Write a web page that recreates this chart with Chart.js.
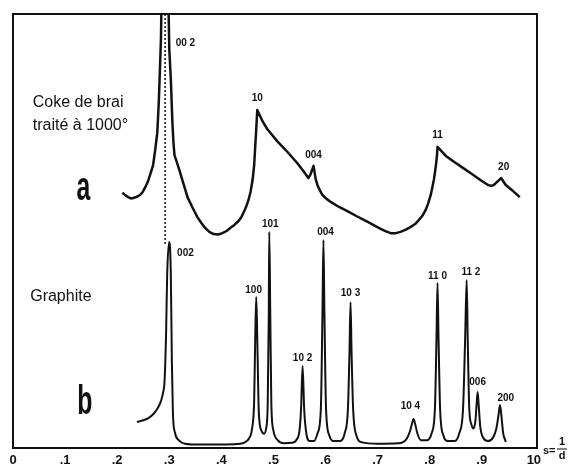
<!DOCTYPE html>
<html>
<head>
<meta charset="utf-8">
<script src="https://cdn.jsdelivr.net/npm/chart.js@4.4.1/dist/chart.umd.min.js"></script>
<style>
  html, body { margin: 0; padding: 0; background: #fff; }
  canvas { display: block; }
</style>
</head>
<body>
<canvas id="xrd" width="568" height="466"></canvas>
<script>
// s = 1/d on x, intensity (arbitrary, 0-100 = frame height) on y
const tickValues = [0, 0.1, 0.2, 0.3, 0.4, 0.5, 0.6, 0.7, 0.8, 0.9, 1.0];
const tickLabels = ['0', '.1', '.2', '.3', '.4', '.5', '.6', '.7', '.8', '.9', '10'];

// a: coke de brai traité à 1000°
const cokeS = [0.210, 0.216, 0.221, 0.226, 0.231, 0.238, 0.244, 0.249, 0.254, 0.259, 0.263, 0.266, 0.269, 0.273, 0.277, 0.280, 0.284, 0.2915, 0.300, 0.303, 0.306, 0.308, 0.310, 0.315, 0.320, 0.325, 0.330, 0.335, 0.345, 0.354, 0.362, 0.369, 0.377, 0.385, 0.394, 0.402, 0.410, 0.417, 0.425, 0.433, 0.438, 0.442, 0.447, 0.452, 0.456, 0.460, 0.463, 0.465, 0.467, 0.469, 0.479, 0.488, 0.508, 0.527, 0.546, 0.560, 0.567, 0.571, 0.574, 0.577, 0.579, 0.581, 0.585, 0.590, 0.594, 0.602, 0.610, 0.625, 0.642, 0.660, 0.681, 0.695, 0.706, 0.716, 0.725, 0.735, 0.744, 0.754, 0.763, 0.772, 0.779, 0.786, 0.792, 0.797, 0.802, 0.805, 0.808, 0.810, 0.812, 0.814, 0.815, 0.831, 0.846, 0.863, 0.879, 0.898, 0.912, 0.918, 0.923, 0.931, 0.937, 0.946, 0.960, 0.973];
const cokeI = [58.8, 58.2, 57.8, 57.5, 57.6, 57.9, 58.3, 59.0, 60.1, 61.4, 62.9, 64.0, 65.2, 68.7, 72.6, 80, 94, 150, 92, 85, 75, 70.5, 67.5, 65.7, 63.8, 61.8, 59.8, 57.8, 55.3, 53.2, 51.8, 50.7, 49.8, 49.3, 49.2, 49.5, 50.0, 50.7, 51.4, 52.3, 53.1, 54.1, 55.4, 57.1, 59.0, 61.8, 65.2, 69.4, 73.5, 77.9, 75.3, 73.5, 70.6, 68.2, 65.6, 63.4, 62.2, 63.0, 64.0, 65.0, 63.5, 62.0, 60.4, 59.2, 58.3, 57.4, 56.7, 55.6, 54.6, 53.4, 52.1, 51.2, 50.5, 49.9, 49.5, 49.5, 49.8, 50.3, 50.9, 51.6, 52.5, 53.5, 54.8, 56.3, 58.3, 60.0, 61.8, 63.4, 65.2, 67.4, 69.4, 67.3, 66.0, 64.6, 63.3, 61.7, 60.6, 60.4, 60.6, 61.5, 62.2, 60.6, 59.2, 57.8];
const cokePeakNames = ['00 2', '10', '004', '11', '20'];
const cokePeakS = [0.331, 0.469, 0.577, 0.815, 0.942];
const cokePeakI = [93.3, 80.6, 67.5, 72.1, 64.7];

// b: graphite
const graphiteS = [0.238, 0.250, 0.260, 0.270, 0.278, 0.284, 0.288, 0.291, 0.294, 0.296, 0.300, 0.303, 0.305, 0.307, 0.311, 0.318, 0.330, 0.360, 0.400, 0.430, 0.445, 0.453, 0.459, 0.463, 0.465, 0.467, 0.469, 0.472, 0.477, 0.482, 0.486, 0.489, 0.491, 0.492, 0.494, 0.496, 0.500, 0.508, 0.520, 0.535, 0.545, 0.550, 0.553, 0.556, 0.559, 0.563, 0.570, 0.578, 0.585, 0.591, 0.594, 0.596, 0.598, 0.601, 0.607, 0.615, 0.628, 0.637, 0.643, 0.646, 0.648, 0.650, 0.653, 0.659, 0.670, 0.700, 0.740, 0.755, 0.762, 0.766, 0.769, 0.772, 0.776, 0.783, 0.795, 0.804, 0.810, 0.813, 0.815, 0.817, 0.820, 0.826, 0.835, 0.848, 0.857, 0.864, 0.868, 0.871, 0.873, 0.876, 0.880, 0.884, 0.888, 0.890, 0.892, 0.894, 0.897, 0.903, 0.912, 0.922, 0.928, 0.932, 0.935, 0.938, 0.941, 0.946];
const graphiteI = [6.0, 6.4, 6.9, 7.9, 9.2, 10.8, 12.7, 15.5, 27, 40, 47.5, 40, 20, 8, 3.5, 1.8, 1.0, 0.8, 0.8, 0.9, 1.3, 2.2, 4.5, 11, 25, 34.8, 25, 8, 4.0, 3.3, 4.5, 10, 30, 49.8, 30, 10, 4.0, 1.8, 1.1, 1.2, 2.0, 4.0, 9, 18.9, 9, 3.5, 1.6, 1.6, 3.5, 9, 30, 47.9, 30, 9, 3.0, 1.6, 1.6, 3.5, 9, 22, 33.6, 22, 9, 3.0, 1.3, 1.0, 1.1, 2.0, 3.8, 5.6, 6.7, 5.6, 3.5, 1.8, 1.8, 3.5, 9, 25, 38.0, 25, 9, 3.0, 1.6, 1.6, 3.5, 9, 25, 38.7, 25, 9, 5.5, 4.5, 6.5, 10, 12.9, 10, 5, 2.3, 1.6, 2.5, 4.5, 7.5, 9.9, 7, 3.5, 1.4];
const graphitePeakNames = ['002', '100', '101', '10 2', '004', '10 3', '10 4', '11 0', '11 2', '006', '200'];
const graphitePeakS = [0.331, 0.462, 0.494, 0.556, 0.600, 0.648, 0.763, 0.815, 0.879, 0.892, 0.946];
const graphitePeakI = [44.9, 36.4, 51.6, 20.7, 49.8, 35.7, 9.7, 39.6, 40.6, 15.2, 11.5];

// dotted guide from the coke 002 peak down to the graphite 002 peak
const guideS = [0.292, 0.292];
const guideI = [100, 47];

const toPoints = (xs, ys) => xs.map((x, i) => ({ x, y: ys[i] }));

const annotations = {
  id: 'annotations',
  afterDatasetsDraw(chart) {
    const { ctx, chartArea: area, scales: { x, y } } = chart;
    ctx.save();
    ctx.fillStyle = '#111';
    ctx.strokeStyle = '#111';

    // frame
    ctx.lineWidth = 2;
    ctx.strokeRect(area.left, area.top, area.right - area.left, area.bottom - area.top);

    // peak indices
    ctx.font = 'bold 10px "Liberation Sans", Arial, sans-serif';
    ctx.textAlign = 'center';
    ctx.textBaseline = 'middle';
    cokePeakNames.forEach((t, i) => ctx.fillText(t, x.getPixelForValue(cokePeakS[i]), y.getPixelForValue(cokePeakI[i])));
    graphitePeakNames.forEach((t, i) => ctx.fillText(t, x.getPixelForValue(graphitePeakS[i]), y.getPixelForValue(graphitePeakI[i])));

    // sample names
    ctx.font = '16px "Liberation Sans", Arial, sans-serif';
    ctx.textAlign = 'left';
    ctx.fillText('Coke de brai', x.getPixelForValue(0.038), y.getPixelForValue(79.7));
    ctx.fillText('traité à 1000°', x.getPixelForValue(0.038), y.getPixelForValue(74.4));
    ctx.fillText('Graphite', x.getPixelForValue(0.033), y.getPixelForValue(35.0));

    // big condensed letters
    ctx.font = 'bold 40px "Liberation Sans", Arial, sans-serif';
    ctx.textAlign = 'center';
    [['a', 0.135, 59.7], ['b', 0.138, 10.4]].forEach(([t, s, v]) => {
      ctx.save();
      ctx.translate(x.getPixelForValue(s), y.getPixelForValue(v));
      ctx.scale(0.62, 1);
      ctx.fillText(t, 0, 0);
      ctx.restore();
    });

    // axis name s = 1/d
    const ax = area.right + 6;
    const ay = area.bottom;
    ctx.font = 'bold 11px "Liberation Sans", Arial, sans-serif';
    ctx.textAlign = 'left';
    ctx.fillText('s=', ax, ay + 3);
    ctx.textAlign = 'center';
    ctx.fillText('1', ax + 19, ay - 6);
    ctx.fillText('d', ax + 19, ay + 8);
    ctx.lineWidth = 1;
    ctx.beginPath();
    ctx.moveTo(ax + 14, ay + 1);
    ctx.lineTo(ax + 24, ay + 1);
    ctx.stroke();
    ctx.restore();
  }
};

new Chart(document.getElementById('xrd'), {
  type: 'line',
  data: {
    datasets: [
      {
        data: toPoints(cokeS, cokeI),
        borderColor: '#111',
        borderWidth: 2.5,
        borderJoinStyle: 'round',
        pointRadius: 0,
        tension: 0,
        fill: false
      },
      {
        data: toPoints(graphiteS, graphiteI),
        borderColor: '#111',
        borderWidth: 2,
        pointRadius: 0,
        cubicInterpolationMode: 'monotone',
        fill: false
      },
      {
        data: toPoints(guideS, guideI),
        borderColor: '#111',
        borderWidth: 1.5,
        borderDash: [2, 2],
        pointRadius: 0,
        fill: false
      }
    ]
  },
  options: {
    responsive: false,
    devicePixelRatio: 1,
    animation: false,
    layout: { padding: { left: 13, top: 14, right: 31, bottom: 0 } },
    plugins: { legend: { display: false }, tooltip: { enabled: false } },
    scales: {
      x: {
        type: 'linear',
        min: 0,
        max: 1.006,
        afterBuildTicks: scale => { scale.ticks = tickValues.map(value => ({ value })); },
        afterFit: scale => { scale.height = 18; },
        grid: { display: false, drawTicks: false },
        border: { display: false },
        ticks: {
          autoSkip: false,
          maxRotation: 0,
          padding: 5,
          color: '#111',
          font: { family: '"Liberation Sans", Arial, sans-serif', size: 13, weight: 'bold' },
          callback: (value, index) => tickLabels[index]
        }
      },
      y: { display: false, min: 0, max: 100 }
    }
  },
  plugins: [annotations]
});
</script>
</body>
</html>
